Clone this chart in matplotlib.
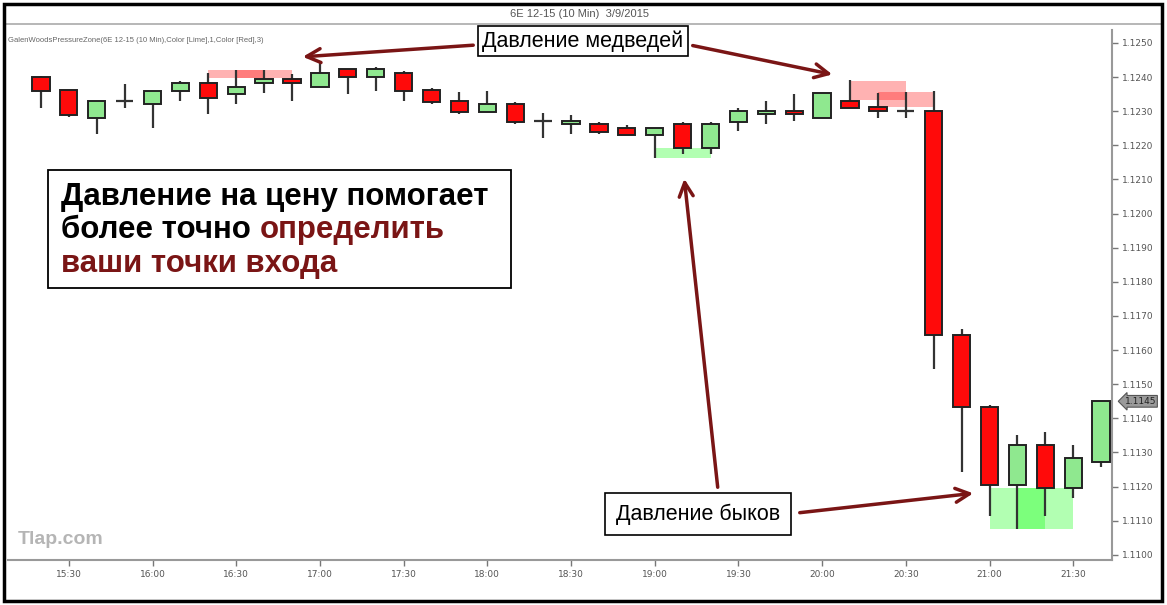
import numpy as np
import pandas as pd
import matplotlib
matplotlib.use('Agg')
import matplotlib.pyplot as plt
from matplotlib.patches import Rectangle, FancyArrowPatch
from matplotlib.lines import Line2D

# 10-minute bars for 6E 12-15, 3/9/2015
bar_times = pd.date_range('2015-03-09 15:20', periods=39, freq='10min')

opens = [1.12400, 1.12362, 1.12280, 1.12330, 1.12321, 1.12359, 1.12383, 1.12351, 1.12383, 1.12395,
         1.12371, 1.12424, 1.12400, 1.12412, 1.12362, 1.12330, 1.12298, 1.12321, 1.12271, 1.12263,
         1.12263, 1.12251, 1.12230, 1.12263, 1.12192, 1.12269, 1.12292, 1.12301, 1.12280, 1.12330,
         1.12313, 1.12301, 1.12301, 1.11644, 1.11434, 1.11205, 1.11322, 1.11196, 1.11272]
closes = [1.12359, 1.12289, 1.12330, 1.12330, 1.12359, 1.12383, 1.12339, 1.12371, 1.12395, 1.12383,
          1.12412, 1.12400, 1.12424, 1.12359, 1.12327, 1.12298, 1.12321, 1.12269, 1.12271, 1.12271,
          1.12239, 1.12230, 1.12251, 1.12192, 1.12263, 1.12301, 1.12301, 1.12292, 1.12354, 1.12310,
          1.12301, 1.12301, 1.11644, 1.11434, 1.11205, 1.11322, 1.11196, 1.11284, 1.11451]
highs = [1.12403, 1.12362, 1.12330, 1.12380, 1.12359, 1.12389, 1.12412, 1.12421, 1.12421, 1.12409,
         1.12444, 1.12424, 1.12430, 1.12418, 1.12368, 1.12356, 1.12359, 1.12327, 1.12295, 1.12289,
         1.12269, 1.12260, 1.12251, 1.12269, 1.12269, 1.12310, 1.12330, 1.12351, 1.12354, 1.12392,
         1.12354, 1.12356, 1.12359, 1.11662, 1.11439, 1.11351, 1.11360, 1.11322, 1.11451]
lows = [1.12310, 1.12283, 1.12233, 1.12310, 1.12251, 1.12330, 1.12292, 1.12321, 1.12354, 1.12330,
        1.12371, 1.12351, 1.12359, 1.12330, 1.12321, 1.12292, 1.12298, 1.12263, 1.12222, 1.12233,
        1.12234, 1.12230, 1.12163, 1.12175, 1.12175, 1.12242, 1.12263, 1.12271, 1.12280, 1.12310,
        1.12280, 1.12280, 1.11545, 1.11243, 1.11114, 1.11076, 1.11114, 1.11167, 1.11258]

# pressure zones: (first bar, last bar, low, high)
bear_zones = [(6, 8, 1.12397, 1.12421), (7, 9, 1.12397, 1.12421),
              (29, 31, 1.12333, 1.12389), (30, 32, 1.12313, 1.12356)]
bull_zones = [(22, 24, 1.12163, 1.12192),
              (34, 36, 1.11076, 1.11196), (35, 37, 1.11076, 1.11196)]

y_ticks = [1.1100, 1.1110, 1.1120, 1.1130, 1.1140, 1.1150, 1.1160, 1.1170,
           1.1180, 1.1190, 1.1200, 1.1210, 1.1220, 1.1230, 1.1240, 1.1250]
last_price = 1.1145

W, H = 1167, 605
RED = '#ff0a0a'
GREEN = '#8fe88f'
ARROW = '#7a1515'


def fpx(x, y):
    """pixel position (from top-left) -> figure fraction"""
    return x / W, 1 - y / H


fig = plt.figure(figsize=(W / 100, H / 100), dpi=100)
fig.patch.set_facecolor('white')
ax = fig.add_axes([8 / W, 1 - 560 / H, (1112 - 8) / W, (560 - 30) / H])

# zones first so candles sit on top
for x0, x1, lo, hi in bear_zones:
    ax.add_patch(Rectangle((x0, lo), x1 - x0, hi - lo, facecolor='red', alpha=0.3,
                           edgecolor='none', zorder=1))
for x0, x1, lo, hi in bull_zones:
    ax.add_patch(Rectangle((x0, lo), x1 - x0, hi - lo, facecolor='lime', alpha=0.3,
                           edgecolor='none', zorder=1))

body_w = 0.62
for i in range(len(bar_times)):
    o, h, l, c = opens[i], highs[i], lows[i], closes[i]
    ax.vlines(i, l, h, color='#333333', linewidth=1.6, zorder=2)
    if abs(c - o) < 1e-6:
        ax.hlines(o, i - body_w / 2, i + body_w / 2, color='#333333', linewidth=1.6, zorder=3)
        continue
    color = GREEN if c > o else RED
    ax.add_patch(Rectangle((i - body_w / 2, min(o, c)), body_w, abs(c - o),
                           facecolor=color, edgecolor='#222222', linewidth=1.4, zorder=3))

ax.set_xlim(-1.18, 38.39)
ax.set_ylim(1.10985, 1.12538)

tick_idx = [i for i, t in enumerate(bar_times) if t.minute % 30 == 0]
ax.set_xticks(tick_idx)
ax.set_xticklabels([bar_times[i].strftime('%H:%M') for i in tick_idx])
ax.set_yticks(y_ticks)
ax.set_yticklabels([f'{v:.4f}' for v in y_ticks])
ax.yaxis.tick_right()
ax.tick_params(axis='both', colors='#777777', labelcolor='#555555', labelsize=6.5,
               length=4, width=1)
ax.tick_params(axis='x', pad=3)
for side in ['top', 'left']:
    ax.spines[side].set_visible(False)
for side in ['right', 'bottom']:
    ax.spines[side].set_color('#999999')
    ax.spines[side].set_linewidth(1.5)

# last price tag
ax.annotate(f'{last_price:.4f}', xy=(1.0, last_price), xycoords=('axes fraction', 'data'),
            xytext=(9, 0), textcoords='offset points', va='center', ha='left',
            fontsize=6.5, color='#222222',
            bbox=dict(boxstyle='larrow,pad=0.15', fc='#9a9a9a', ec='#555555', lw=0.8))

# header
fig.text(580 / W, 1 - 14 / H, '6E 12-15 (10 Min)  3/9/2015', ha='center', va='center',
         fontsize=8, color='#555555', family='Liberation Sans')
fig.add_artist(Line2D([5 / W, 1162 / W], [1 - 24 / H, 1 - 24 / H], color='#aaaaaa', lw=1.2))
fig.text(8 / W, 1 - 40 / H,
         'GalenWoodsPressureZone(6E 12-15 (10 Min),Color [Lime],1,Color [Red],3)',
         ha='left', va='center', fontsize=5.5, color='#666666', family='Liberation Sans')

# watermark
fig.text(18 / W, 1 - 540 / H, 'Tlap.com', ha='left', va='center', fontsize=14,
         fontweight='bold', color='#b5b5b5', family='Liberation Sans')

# callout boxes and arrows
fig.text(*fpx(583, 41), 'Давление медведей', ha='center', va='center', fontsize=15.5,
         family='Liberation Sans', zorder=10,
         bbox=dict(boxstyle='square,pad=0.2', fc='white', ec='black', lw=1.2))
fig.text(*fpx(698, 514), 'Давление быков', ha='center', va='center', fontsize=15.5,
         family='Liberation Sans', zorder=10,
         bbox=dict(boxstyle='square,pad=0.5', fc='white', ec='black', lw=1.2))

arrows = [((476, 45), (300, 57)), ((690, 45), (835, 75)),
          ((718, 490), (684, 176)), ((797, 513), (976, 493))]
for tail, head in arrows:
    fig.add_artist(FancyArrowPatch(
        fpx(*tail), fpx(*head), transform=fig.transFigure,
        arrowstyle='->,head_length=10,head_width=5', color=ARROW, lw=2.5,
        mutation_scale=1, zorder=9))

# big message box
fig.add_artist(Rectangle(fpx(48, 288), (511 - 48) / W, (288 - 170) / H,
                         transform=fig.transFigure, fc='white', ec='black', lw=1.3, zorder=8))
msg_kw = dict(fontsize=22.5, fontweight='bold', family='Liberation Sans', va='center',
              ha='left', zorder=11)
fig.text(*fpx(61, 197), 'Давление на цену помогает', color='black', **msg_kw)
t2 = fig.text(*fpx(61, 230), 'более точно ', color='black', **msg_kw)
fig.canvas.draw()
bb = t2.get_window_extent(renderer=fig.canvas.get_renderer())
fig.text(bb.x1 / W, 1 - 230 / H, 'определить', color=ARROW, **msg_kw)
fig.text(*fpx(61, 264), 'ваши точки входа', color=ARROW, **msg_kw)

# outer frame
fig.add_artist(Rectangle((4 / W, 4 / H), (1162 - 4) / W, (601 - 4) / H,
                         transform=fig.transFigure, fc='none', ec='black', lw=2.5, zorder=20))

fig.savefig('out.png', dpi=100)
